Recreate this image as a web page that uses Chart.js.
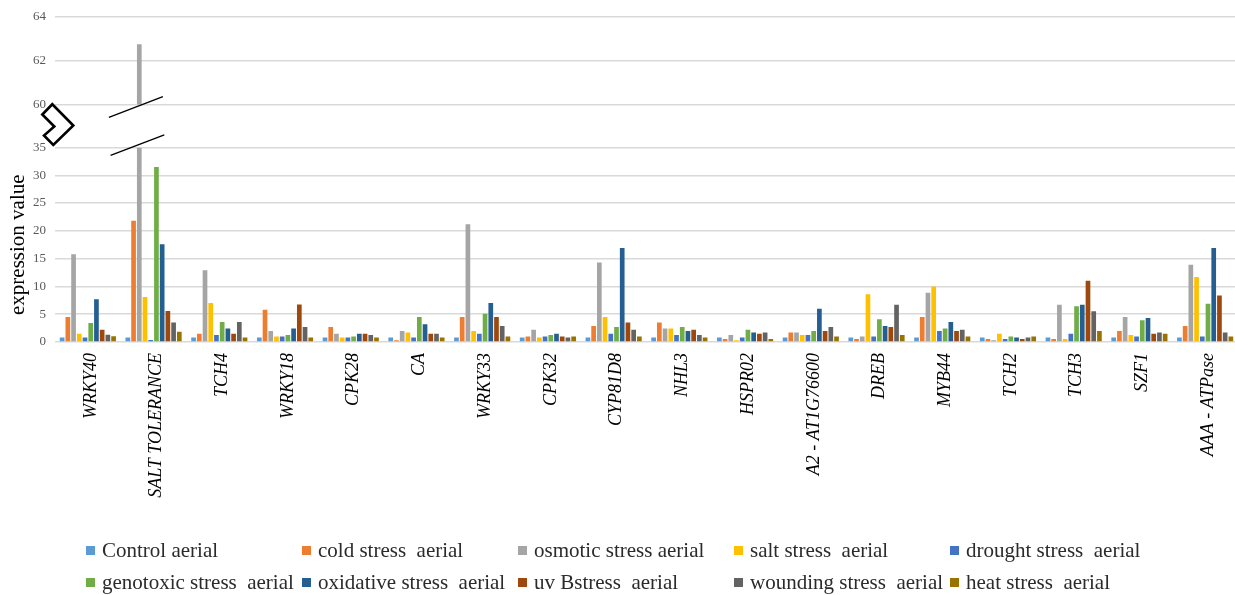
<!DOCTYPE html>
<html><head><meta charset="utf-8">
<script src="https://cdn.jsdelivr.net/npm/chart.js@4/dist/chart.umd.min.js"></script>
<style>
html,body{margin:0;padding:0;background:#fff;}
#wrap{position:relative;width:1235px;height:595px;overflow:hidden;}
#c{position:absolute;left:0;top:0;}
#legend{position:absolute;left:86px;top:534px;display:grid;grid-template-columns:216px 216px 216px 216px 230px;grid-auto-rows:32px;font-family:"Liberation Serif",serif;font-size:21px;color:#2b2b2b;}
.li{display:flex;align-items:center;white-space:pre;}
.sw{width:9px;height:9px;margin-right:7px;flex:none;}
</style></head>
<body><div id="wrap"><canvas id="c" width="1240" height="595"></canvas><div id="legend"></div></div>
<script>
const categories = ['WRKY40','SALT TOLERANCE','TCH4','WRKY18','CPK28','CA','WRKY33','CPK32','CYP81D8','NHL3','HSPR02','A2 - AT1G76600','DREB','MYB44','TCH2','TCH3','SZF1','AAA - ATPase'];
const seriesNames = ['Control aerial','cold stress  aerial','osmotic stress aerial','salt stress  aerial','drought stress  aerial','genotoxic stress  aerial','oxidative stress  aerial','uv Bstress  aerial','wounding stress  aerial','heat stress  aerial'];
const control   = [0.8,0.8,0.8,0.8,0.8,0.8,0.8,0.8,0.8,0.8,0.8,0.8,0.8,0.8,0.8,0.8,0.8,0.8];
const cold      = [4.5,21.8,1.5,5.8,2.7,0.3,4.5,1.0,2.9,3.5,0.55,1.7,0.55,4.5,0.55,0.55,2.0,2.9];
const osmotic   = [15.8,62.75,12.9,2.0,1.5,2.0,21.2,2.2,14.3,2.45,1.25,1.7,1.0,8.85,0.3,6.7,4.5,13.9];
const salt      = [1.5,8.1,7.0,1.0,0.8,1.7,2.0,0.8,4.5,2.45,0.3,1.25,8.6,10.0,1.5,0.55,1.25,11.7];
const drought   = [0.8,0.35,1.25,1.0,0.8,0.8,1.5,1.0,1.5,1.25,0.8,1.25,1.0,2.0,0.55,1.5,1.0,1.0];
const genotoxic = [3.4,31.5,3.6,1.25,1.0,4.5,5.1,1.25,2.7,2.7,2.2,2.0,4.1,2.45,1.0,6.45,3.9,6.9];
const oxidative = [7.7,17.6,2.45,2.45,1.5,3.2,7.0,1.5,16.9,2.0,1.7,6.0,2.9,3.6,0.8,6.7,4.3,16.9];
const uvB       = [2.2,5.6,1.5,6.75,1.5,1.5,4.5,1.0,3.5,2.2,1.5,2.0,2.7,2.0,0.55,11.0,1.5,8.35];
const wounding  = [1.3,3.5,3.6,2.7,1.25,1.5,2.9,0.8,2.2,1.25,1.7,2.7,6.7,2.2,0.8,5.55,1.7,1.7];
const heat      = [1.05,1.85,0.8,0.8,0.8,0.8,1.0,1.0,1.0,0.8,0.55,1.0,1.25,1.0,1.0,2.0,1.5,1.0];
const lowerTicks = [0,5,10,15,20,25,30,35];
const upperTicks = [60,62,64];

const colors = ['#5B9BD5','#ED7D31','#A5A5A5','#FFC000','#4472C4','#70AD47','#255E91','#9E480E','#636363','#997300'];
const series = [control,cold,osmotic,salt,drought,genotoxic,oxidative,uvB,wounding,heat];
const lowerMax = lowerTicks[lowerTicks.length-1];
const gapUnits = 43/22;

const barStyle = {categoryPercentage:0.87, barPercentage:0.82, borderWidth:0};
const datasets = series.map((d,i)=>Object.assign({label:seriesNames[i], data:d, backgroundColor:colors[i], yAxisID:'y', stack:'s'+i}, barStyle));
series.forEach((d,i)=>{
  if (d.some(v=>v>lowerMax)) {
    datasets.push(Object.assign({label:seriesNames[i], upper:true, data:d.map(v=>v>lowerMax?[upperTicks[0],v]:null), backgroundColor:colors[i], yAxisID:'y2', stack:'s'+i}, barStyle));
  }
});

const breakPlugin = {
  id:'axisBreak',
  beforeDatasetDraw(chart,args){
    const ctx=chart.ctx, s=args.meta.vScale, a=chart.chartArea;
    ctx.save(); ctx.beginPath(); ctx.rect(a.left, s.top, a.right-a.left, s.bottom-s.top); ctx.clip();
  },
  afterDatasetDraw(chart){ chart.ctx.restore(); },
  afterDraw(chart){
    const ctx=chart.ctx, ya=chart.scales.y, yb=chart.scales.y2, a=chart.chartArea;
    const yLowTop = ya.getPixelForValue(lowerMax);
    const yUpBot = yb.getPixelForValue(upperTicks[0]);
    ctx.save();
    ctx.strokeStyle='#000'; ctx.lineWidth=1.3;
    chart.data.datasets.forEach((ds,di)=>{
      if(!ds.upper) return;
      const meta=chart.getDatasetMeta(di);
      meta.data.forEach((el,i)=>{
        if(ds.data[i]==null) return;
        const x=el.x;
        ctx.beginPath();
        ctx.moveTo(x-30.4, yUpBot+12.7); ctx.lineTo(x+23.6, yUpBot-8);
        ctx.moveTo(x-28.7, yLowTop+8); ctx.lineTo(x+25, yLowTop-12.7);
        ctx.stroke();
      });
    });
    const cx=a.left, cy=(yLowTop+yUpBot)/2;
    const pts=[[-2.7,-21.8],[18.3,-0.5],[-1.7,18.8],[-11,9.5],[-0.7,0.5],[-12.7,-11.5]];
    ctx.beginPath();
    pts.forEach((p,i)=> i?ctx.lineTo(cx+p[0],cy+p[1]):ctx.moveTo(cx+p[0],cy+p[1]));
    ctx.closePath();
    ctx.fillStyle='#fff'; ctx.fill();
    ctx.lineWidth=2.6; ctx.lineJoin='miter'; ctx.stroke();
    ctx.restore();
  }
};

const tickFont = {family:'"Liberation Serif", serif', size:13};
const gridStyle = {color:'#D9D9D9', lineWidth:1.5, drawTicks:false};

new Chart(document.getElementById('c'), {
  type:'bar',
  data:{labels:categories, datasets},
  options:{
    responsive:false, animation:false,
    layout:{padding:{top:16,right:2,left:0,bottom:0}},
    plugins:{legend:{display:false}, tooltip:{enabled:false}},
    scales:{
      x:{
        grid:{display:false}, border:{display:false},
        ticks:{autoSkip:false, minRotation:90, maxRotation:90, padding:3, labelOffset:3, color:'#000', font:{family:'"Liberation Serif", serif', size:18, style:'italic'}},
        afterFit(s){ s.height=253; }
      },
      y:{
        position:'left', stack:'v', stackWeight:195, min:0, max:lowerMax,
        afterBuildTicks(s){ s.ticks=lowerTicks.map(v=>({value:v})); },
        grid:gridStyle, border:{display:false},
        ticks:{padding:9, color:'#595959', font:tickFont},
        title:{display:true, text:'expression value', color:'#000', font:{family:'"Liberation Serif", serif', size:21}, padding:{top:6,bottom:0}},
        afterFit(s){ s.width=55; }
      },
      y2:{
        position:'left', stack:'v', stackWeight:131, min:upperTicks[0]-gapUnits, max:upperTicks[upperTicks.length-1],
        afterBuildTicks(s){ s.ticks=upperTicks.map(v=>({value:v})); },
        grid:gridStyle, border:{display:false},
        ticks:{padding:9, color:'#595959', font:tickFont},
        afterFit(s){ s.width=55; }
      }
    }
  },
  plugins:[breakPlugin]
});

const lg=document.getElementById('legend');
seriesNames.forEach((n,i)=>{
  const d=document.createElement('div'); d.className='li';
  const sw=document.createElement('span'); sw.className='sw'; sw.style.background=colors[i];
  const t=document.createElement('span'); t.textContent=n;
  d.appendChild(sw); d.appendChild(t); lg.appendChild(d);
});
</script>
</body></html>
